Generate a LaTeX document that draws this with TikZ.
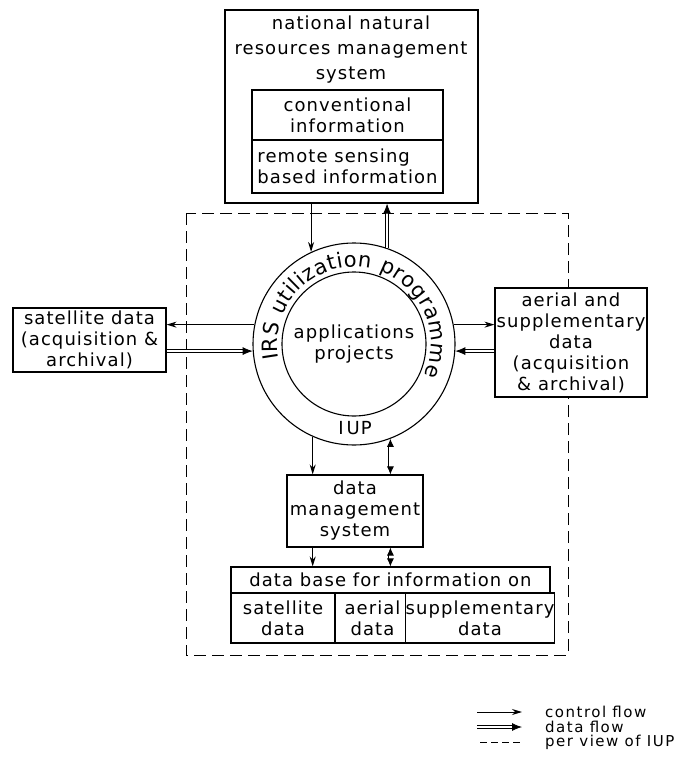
\documentclass[tikz,border=0pt]{standalone}
\usepackage{fontspec}
\setmainfont{DejaVu Sans}[LetterSpace=6]
\usetikzlibrary{arrows.meta,decorations.text}
\newcommand\dgfont{\fontsize{18}{21}\selectfont}
\newcommand\dgtitlefont{\fontsize{18}{25}\selectfont}
\newcommand\dgringfont{\fontsize{21}{24}\selectfont}
\newcommand\dglegfont{\fontsize{15}{15}\selectfont\addfontfeature{LetterSpace=10}}
\tikzset{
  box/.style={draw, line width=1.1pt, fill=white, inner sep=0pt, align=center, font=\dgfont},
  txt/.style={inner sep=0pt, align=center, font=\dgfont},
  legtxt/.style={inner sep=0pt, anchor=west, font=\dglegfont},
  cflow/.style={line width=1pt, -{Stealth[length=10pt,width=6pt]}},
  dflow/.style={double, double distance=2.6pt, line width=0.8pt, -{Latex[length=10pt,width=8pt]}},
  dflowboth/.style={double, double distance=2.6pt, line width=0.8pt, {Latex[length=8pt,width=7pt]}-{Latex[length=8pt,width=7pt]}},
  iupline/.style={line width=1pt, dash pattern=on 12pt off 6pt}
}
\begin{document}
\begin{tikzpicture}[x=1pt,y=1pt]
\useasboundingbox (0,0) rectangle (696,-778);
% IUP perimeter (dashed)
\draw[iupline] (186,-213) rectangle (568,-655);

% national natural resources management system
\node[box, minimum width=253pt, minimum height=193pt] (nnrms) at (351.5,-106.5) {};
\node[txt, font=\dgtitlefont] (nnrmst) at (351,-50) {national natural\\resources management\\system};
\node[box, minimum width=191pt, minimum height=50pt] (conv) at (347.5,-115) {conventional\\information};
\node[box, minimum width=191pt, minimum height=53pt, align=left] (rs) at (347.5,-166.5) {remote sensing\\based information};

% ring
\node[circle, draw, line width=1.1pt, minimum size=202pt, inner sep=0pt] (ring) at (354,-344) {};
\node[circle, draw, line width=1.1pt, minimum size=144pt, inner sep=0pt, align=center, font=\dgfont] (apps) at (354,-344) {applications\\projects};
\path[decorate, decoration={text along path, text align=fit to path,
  text={|\dgringfont|IRS utilization programme}}]
  ([shift={(191:77)}]ring.center) arc[start angle=191, end angle=-24, radius=77];
\node[txt] (iup) at (355,-428) {I\,UP};

% side boxes
\node[box, minimum width=153pt, minimum height=64pt] (sat) at (89.5,-340) {satellite data\\(acquisition \&\\archival)};
\node[box, minimum width=152pt, minimum height=109pt] (aer) at (571,-342.5) {aerial and\\supplementary\\data\\(acquisition\\\& archival)};

% data management system
\node[box, minimum width=136pt, minimum height=72pt] (dms) at (355,-511) {data\\management\\system};

% data base
\node[box, minimum width=319pt, minimum height=26pt] (db) at (390.5,-580) {data base for information on};
\node[box, minimum width=104pt, minimum height=50pt] (dbsat) at (283,-618) {satellite\\data};
\node[box, minimum width=75pt, minimum height=50pt] (dbaer) at (372.5,-618) {aerial\\data};
\node[box, minimum width=140pt, minimum height=50pt] (dbsup) at (480,-618) {supplementary\\data};

% connectors
\draw[cflow] (nnrms.south -| ring.115) -- (ring.115);
\draw[dflow] (ring.71) -- (ring.71 |- nnrms.south);
\draw[cflow] (ring.169) -- (ring.169 -| sat.east);
\draw[dflow] (sat.east |- ring.184) -- (ring.184);
\draw[cflow] (ring.11) -- (ring.11 -| aer.west);
\draw[dflow] (aer.west |- ring.-4) -- (ring.-4);
\draw[cflow] (ring.-114) -- (ring.-114 |- dms.north);
\draw[dflowboth] (ring.-69) -- (ring.-69 |- dms.north);
\draw[cflow] (dms.south -| ring.-114) -- (db.north -| ring.-114);
\draw[dflowboth] (dms.south -| ring.-69) -- (db.north -| ring.-69);

% legend
\coordinate (l1a) at (477,-712); \coordinate (l1b) at (522,-712);
\coordinate (l2a) at (477,-727); \coordinate (l2b) at (522,-727);
\coordinate (l3a) at (480,-742); \coordinate (l3b) at (522,-742);
\draw[cflow] (l1a) -- (l1b);
\draw[dflow] (l2a) -- (l2b);
\draw[line width=1pt, dash pattern=on 7pt off 4pt] (l3a) -- (l3b);
\node[legtxt] (l1t) at (545,-712) {control flow};
\node[legtxt] (l2t) at (545,-727) {data flow};
\node[legtxt] (l3t) at (545,-742) {per view of IUP};
\end{tikzpicture}
\end{document}
